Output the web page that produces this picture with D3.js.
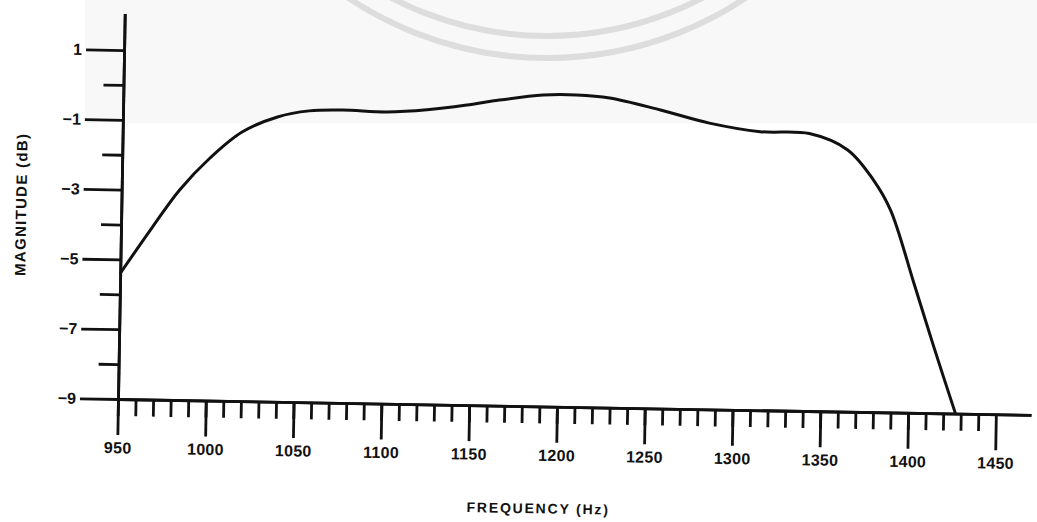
<!DOCTYPE html>
<html>
<head>
<meta charset="utf-8">
<script src="https://cdn.jsdelivr.net/npm/d3@7"></script>
<style>
  body { margin: 0; background: #fff; }
  svg { display: block; }
  text { font-family: "Liberation Sans", Arial, sans-serif; font-weight: bold; fill: #111; }
</style>
</head>
<body>
<div id="screen"></div>
<script>
var width = 1037;
var height = 522;

// curve
var freq = [950, 968, 983, 1000, 1018, 1038, 1056, 1075, 1100, 1123, 1146, 1161, 1189, 1208, 1227, 1256, 1284, 1313, 1341, 1363, 1378, 1388, 1402, 1414, 1427];
var magnitude = [-5.4, -4.05, -2.98, -2.05, -1.29, -0.84, -0.65, -0.61, -0.64, -0.56, -0.40, -0.27, -0.08, -0.06, -0.13, -0.45, -0.80, -1.02, -1.05, -1.50, -2.35, -3.20, -5.28, -7.10, -9.0];

var xMajorTicks = [950, 1000, 1050, 1100, 1150, 1200, 1250, 1300, 1350, 1400, 1450];
var xMinorTicks = d3.range(950, 1441, 10);
var yMajorTicks = [1, -1, -3, -5, -7, -9];
var yMinorTicks = [0, -2, -4, -6, -8];

var xTitle = "FREQUENCY (Hz)";
var yTitle = "MAGNITUDE (dB)";

var ox = 118, oy = 399;
var scaleX = d3.scaleLinear().domain([950, 1470]).range([ox, ox + 520 * 1.756]);
var scaleY = d3.scaleLinear().domain([-9, 2.05]).range([oy, oy - 11.05 * 34.9]);

var svg = d3.select("#screen").append("svg");
svg.attr("width", width).attr("height", height);

// faint grey of the scanned page top
svg.append("rect")
  .attr("x", 85).attr("y", 0).attr("width", width - 85).attr("height", 123)
  .attr("fill", "#f8f8f8");

// watermark rings
var wm = svg.append("g").attr("fill", "none").attr("stroke", "#dddddd").attr("stroke-width", 6);
wm.append("circle").attr("cx", 547).attr("cy", -300).attr("r", 358);
wm.append("circle").attr("cx", 547).attr("cy", -300).attr("r", 336);

// the scan is turned about one degree
var g = svg.append("g").attr("transform", "rotate(1," + ox + "," + oy + ")");

var styleAxis = function (sel){
  sel.selectAll("path").attr("stroke", "#111").attr("stroke-width", 2.8);
  sel.selectAll("line").attr("stroke", "#111").attr("stroke-width", 2.8);
  sel.selectAll("text").attr("font-family", null).attr("fill", "#111");
};

var xMinor = g.append("g").attr("transform", "translate(0," + oy + ")")
  .call(d3.axisBottom(scaleX).tickValues(xMinorTicks).tickSize(17).tickSizeOuter(0).tickFormat(""));
styleAxis(xMinor);

var xMajor = g.append("g").attr("transform", "translate(0," + oy + ")")
  .call(d3.axisBottom(scaleX).tickValues(xMajorTicks).tickSize(36).tickSizeOuter(0).tickPadding(7).tickFormat(d3.format("d")));
styleAxis(xMajor);
xMajor.selectAll("text").attr("font-size", 16).attr("letter-spacing", "0.3px");

var yMinor = g.append("g").attr("transform", "translate(" + ox + ",0)")
  .call(d3.axisLeft(scaleY).tickValues(yMinorTicks).tickSize(20).tickSizeOuter(0).tickFormat(""));
styleAxis(yMinor);

var yMajor = g.append("g").attr("transform", "translate(" + ox + ",0)")
  .call(d3.axisLeft(scaleY).tickValues(yMajorTicks).tickSize(38).tickSizeOuter(0).tickPadding(4));
styleAxis(yMajor);
yMajor.selectAll("text").attr("font-size", 16);

var line = d3.line()
  .x(function (d){ return scaleX(d[0]); })
  .y(function (d){ return scaleY(d[1]); })
  .curve(d3.curveCatmullRom.alpha(0.5));

g.append("path")
  .datum(d3.zip(freq, magnitude))
  .attr("d", line)
  .attr("fill", "none")
  .attr("stroke", "#111")
  .attr("stroke-width", 3)
  .attr("stroke-linejoin", "round");

g.append("text")
  .attr("x", 540).attr("y", 506)
  .attr("text-anchor", "middle")
  .attr("font-size", 14)
  .attr("letter-spacing", "1.8px")
  .text(xTitle);

g.append("text")
  .attr("transform", "translate(23,206) rotate(-90)")
  .attr("text-anchor", "middle")
  .attr("font-size", 15)
  .attr("letter-spacing", "1.3px")
  .text(yTitle);
</script>
</body>
</html>
